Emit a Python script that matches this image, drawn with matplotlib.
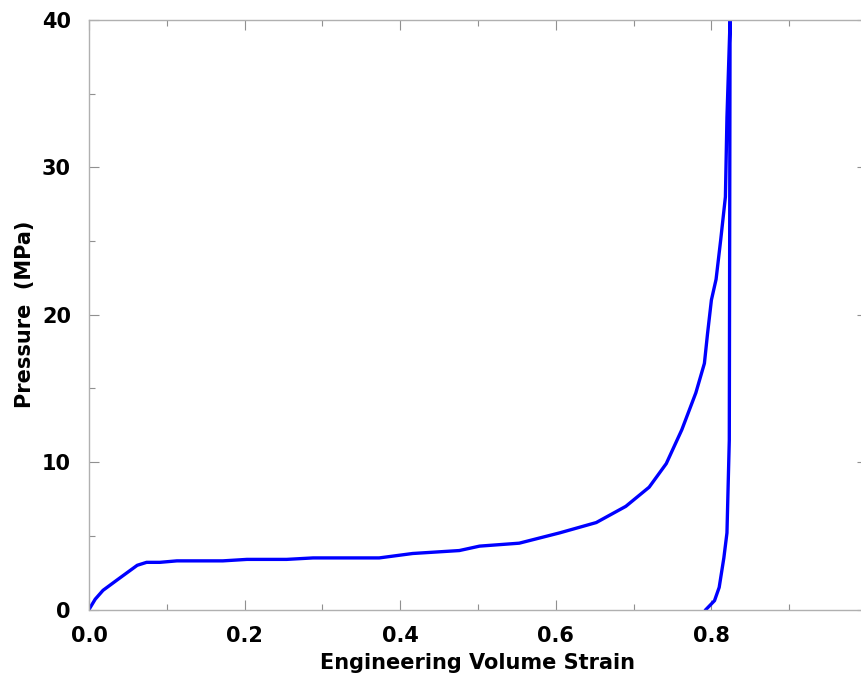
import matplotlib
matplotlib.use("Agg")
import matplotlib.pyplot as plt
from matplotlib.ticker import MultipleLocator

# loading branch (strain, pressure MPa)
load_strain = [0.0, 0.008, 0.018, 0.036, 0.062, 0.074, 0.091, 0.113, 0.172, 0.203, 0.254,
               0.288, 0.373, 0.416, 0.476, 0.502, 0.553, 0.605, 0.652, 0.690, 0.720,
               0.742, 0.762, 0.780, 0.791, 0.795, 0.800, 0.806, 0.812, 0.818, 0.820,
               0.824]
load_pressure = [0.0, 0.7, 1.3, 2.0, 3.0, 3.2, 3.2, 3.3, 3.3, 3.4, 3.4,
                 3.5, 3.5, 3.8, 4.0, 4.3, 4.5, 5.2, 5.9, 7.0, 8.3,
                 9.9, 12.2, 14.7, 16.7, 18.7, 21.0, 22.4, 25.1, 28.0, 33.4,
                 40.0]

# unloading branch
unload_strain = [0.824, 0.823, 0.820, 0.816, 0.810, 0.804, 0.793]
unload_pressure = [40.0, 11.5, 5.2, 3.5, 1.5, 0.6, 0.0]

x_ticks = [0.0, 0.2, 0.4, 0.6, 0.8]
y_ticks = [0, 10, 20, 30, 40]

fig = plt.figure(figsize=(8.62, 6.78), dpi=100)
ax = fig.add_axes([89 / 862, 68.5 / 678, 778 / 862, 589.5 / 678])

ax.plot(load_strain + unload_strain[1:], load_pressure + unload_pressure[1:],
        color="#0000ff", lw=2.4, solid_joinstyle="round")

ax.set_xlim(0, 1.0)
ax.set_ylim(0, 40)
ax.set_xticks(x_ticks)
ax.set_xticklabels(["%.1f" % v for v in x_ticks])
ax.set_yticks(y_ticks)
ax.xaxis.set_minor_locator(MultipleLocator(0.1))
ax.yaxis.set_minor_locator(MultipleLocator(5))

for s in ax.spines.values():
    s.set_color("#b0b0b0")
    s.set_linewidth(1.0)

ax.tick_params(which="both", direction="in", top=True, right=True, color="#909090")
ax.tick_params(which="major", length=7, width=0.8, labelsize=15)
ax.tick_params(axis="x", which="major", pad=12)
ax.tick_params(axis="y", which="major", pad=13)
ax.tick_params(which="minor", length=4, width=0.8)
for lab in ax.get_xticklabels() + ax.get_yticklabels():
    lab.set_fontweight("bold")

ax.set_xlabel("Engineering Volume Strain", fontsize=15, fontweight="bold", labelpad=5)
ax.set_ylabel("Pressure  (MPa)", fontsize=15, fontweight="bold", labelpad=5)

fig.savefig("out.png", dpi=100)
